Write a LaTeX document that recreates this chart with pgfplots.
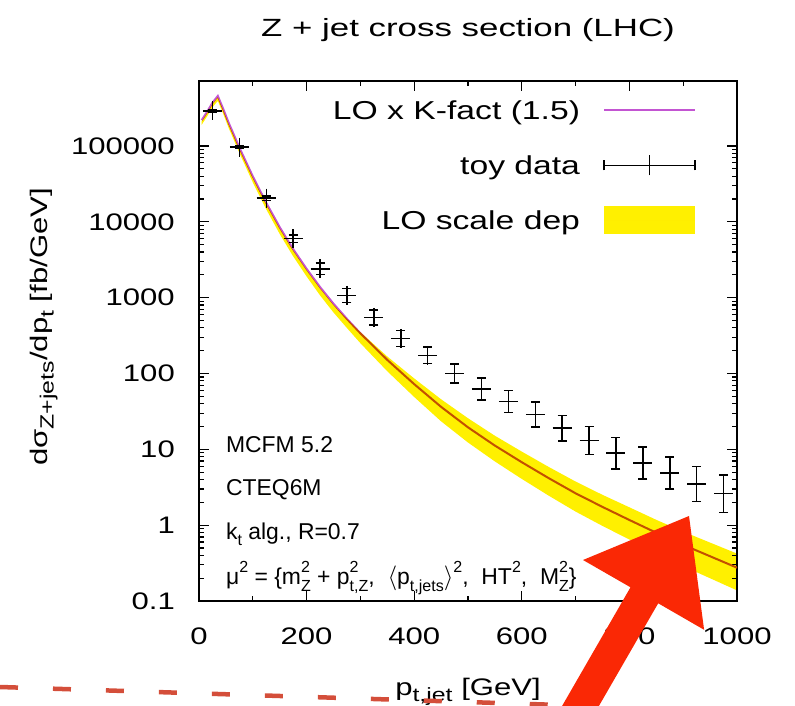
\documentclass[border=0pt]{standalone}
\usepackage{fontspec}
\setmainfont[FakeStretch=1.3]{Liberation Sans}
\newfontfamily\titlefont[FakeStretch=1.4]{Liberation Sans}
\newfontfamily\annfont{Liberation Sans}
\usepackage{graphicx}
\usepackage{pgfplots}
\pgfplotsset{compat=1.18}
\definecolor{locol}{RGB}{195,85,210}
\definecolor{bandyel}{RGB}{255,240,0}
\definecolor{arrowred}{RGB}{250,40,5}
\definecolor{dashred}{RGB}{212,78,58}
\newcommand\lsub[1]{\raisebox{-0.28em}{\scalebox{0.8}{#1}}}
\newcommand\ssup[1]{\raisebox{0.55em}{\scalebox{0.7}{#1}}}
\newcommand\ssub[1]{\raisebox{-0.3em}{\scalebox{0.7}{#1}}}
\newcommand\supsub[2]{\makebox[0pt][l]{\ssup{#1}}\ssub{#2}}
\begin{document}
\begin{tikzpicture}
\begin{axis}[
  name=ax,
  scale only axis,
  width=538bp, height=520bp,
  xmin=0, xmax=1000,
  ymode=log, ymin=0.1, ymax=7.2e5,
  xtick={0,200,400,600,800,1000},
  xticklabels={0,200,400,600,800,1000},
  minor x tick num=1,
  ytick={0.1,1,10,100,1000,10000,100000},
  yticklabels={0.1,1,10,100,1000,10000,100000},
  tick align=inside,
  major tick length=10bp,
  minor tick length=5bp,
  every tick/.append style={black, line width=1.2bp},
  axis line style={line width=1.5bp},
  tick label style={font=\fontsize{24}{28}\selectfont, inner sep=0pt},
  yticklabel style={xshift=-24bp},
  xticklabel style={yshift=-27bp},
  title={\titlefont\fontsize{25}{30}\selectfont Z + jet cross section (LHC)},
  title style={at={(axis description cs:0.5,1)}, anchor=base, yshift=39bp, inner sep=0pt},
  xlabel={p\lsub{t,jet} [GeV]},
  xlabel style={font=\fontsize{24}{28}\selectfont, at={(axis description cs:0.5,0)}, anchor=base, yshift=-94bp, inner sep=0pt},
  ylabel={dσ\lsub{Z+jets}/dp\lsub{t} [fb/GeV]},
  ylabel style={font=\fontsize{24}{28}\selectfont, at={(axis description cs:-0.2825,0.527)}, anchor=base, inner sep=0pt},
  legend style={draw=none, fill=none, inner sep=0pt, outer sep=0pt,
    at={(axis description cs:1,1)}, anchor=north east, xshift=-41bp, yshift=-20bp,
    font=\fontsize{26}{31}\selectfont, row sep=30bp, column sep=23bp,
    nodes={inner sep=0pt, text height=19bp, text depth=6bp}},
  legend cell align=right,
  legend plot pos=right,
]
\addplot[locol, line width=2bp, no markers,
  legend image code/.code={\path (0bp,3bp) -- (91bp,3bp); \draw[locol, line width=2bp, overlay] (0bp,3bp) -- (91bp,3bp);}]
coordinates {
(5,2.19e5)(15,2.82e5)(25,3.72e5)(35,4.57e5)(45,3.09e5)(55,2.04e5)(75,9.55e4)(100,3.98e4)
(125,1.78e4)(150,8511)(175,4365)(200,2399)(225,1380)(250,832)(275,525)(300,339)(350,151)
(400,72.4)(450,36.3)(500,19.5)(550,11.2)(600,6.76)(650,4.17)(700,2.63)(750,1.74)(800,1.17)
(850,0.794)(900,0.550)(950,0.389)(1000,0.275)
};
\addlegendentry{LO x K-fact (1.5)}
\addplot[black, line width=1.5bp, only marks, mark=+, mark size=9.5bp,
  mark options={line width=1.5bp},
  error bars/.cd, y dir=both, y explicit,
  error bar style={line width=1.5bp},
  error mark options={rotate=90, mark size=4.5bp, line width=1.5bp},
  /pgfplots/legend image code/.code={\path (0bp,3bp) -- (91bp,3bp);
    \draw[black, line width=1.5bp, overlay] (0bp,3bp) -- (91bp,3bp) (0bp,-2bp) -- (0bp,8bp) (91bp,-2bp) -- (91bp,8bp) (45.5bp,-7bp) -- (45.5bp,13bp);}]
table[x=x, y=y, y error plus=ep, y error minus=em] {
x y ep em
25 2.9e5 10180 9850
75 9.7e4 4570 4365
125 2.05e4 1466 1368
175 6000 732 652
225 2400 466 390
275 1070 246 200
325 550 142 113
375 290 79 62
425 174 50 39
475 100 33.4 25.0
525 62 24.6 17.6
575 43 17.1 12.2
625 29 13.4 9.17
675 19 9.10 6.15
725 13 6.90 4.51
775 8.9 5.53 3.41
825 6.6 4.10 2.53
875 4.9 3.05 1.88
925 3.5 2.44 1.44
975 2.6 2.02 1.14
};
\addlegendentry{toy data}
\addplot[fill=bandyel, draw=none, blend mode=multiply,
  legend image code/.code={\path (0bp,3bp) -- (91bp,3bp); \fill[bandyel, overlay] (0bp,-11bp) rectangle (91bp,17bp);}]
coordinates {
(5,211500)(15,272400)(25,359400)(35,441500)(45,298500)(55,197100)(75,92250)(100,38450)
(125,17190)(150,8222)(175,4217)(200,2317)(225,1333)(250,804)(275,525)(300,351)(350,167.5)
(400,86.1)(450,45.7)(500,25.7)(550,15.1)(600,9.33)(650,5.86)(700,3.76)(750,2.51)(800,1.72)
(850,1.175)(900,0.822)(950,0.589)(1000,0.422)
(1000,0.138)(950,0.1995)(900,0.288)(850,0.427)(800,0.646)(750,0.977)(700,1.51)(650,2.45)
(600,4.07)(550,6.92)(500,12.3)(450,23.4)(400,49.0)(350,107)(300,251)(275,398)(250,638)
(225,1072)(200,1905)(175,3508)(150,6918)(125,14622)(100,33113)(75,81283)(55,173780)
(45,266073)(35,393550)(25,323594)(15,245471)(5,190546)
} -- cycle;
\addlegendentry{LO scale dep}
\node[anchor=base west, inner sep=0pt, font=\annfont\fontsize{23}{27}\selectfont] at (rel axis cs:0.05,0.285) {MCFM 5.2};
\node[anchor=base west, inner sep=0pt, font=\annfont\fontsize{23}{27}\selectfont] at (rel axis cs:0.05,0.202) {CTEQ6M};
\node[anchor=base west, inner sep=0pt, font=\annfont\fontsize{23}{27}\selectfont] at (rel axis cs:0.05,0.119) {k\ssub{t} alg., R=0.7};
\node[anchor=base west, inner sep=0pt, font=\annfont\fontsize{23}{27}\selectfont] at (rel axis cs:0.05,0.031) {μ\ssup{2} = \{m\supsub{2}{Z} + p\supsub{2}{t,Z}, \ $\langle$p\ssub{t,jets}$\rangle$\ssup{2}, \ HT\ssup{2}, \ M\supsub{2}{Z}\}};
\end{axis}
\begin{scope}[shift={(ax.south west)}, x=1bp, y=-1bp, shift={(-199,-601)}]
\path[use as bounding box] (0,0) rectangle (795,706);
\draw[dashred, line width=4.5bp, dash pattern=on 18bp off 35bp] (0,687) -- (560,705);
\fill[arrowred] (689,516) -- (704.1,629.8) -- (658.2,603.3) -- (590.8,720) -- (554,720) -- (630.5,587.3) -- (583,560) -- cycle;
\end{scope}
\end{tikzpicture}
\end{document}
